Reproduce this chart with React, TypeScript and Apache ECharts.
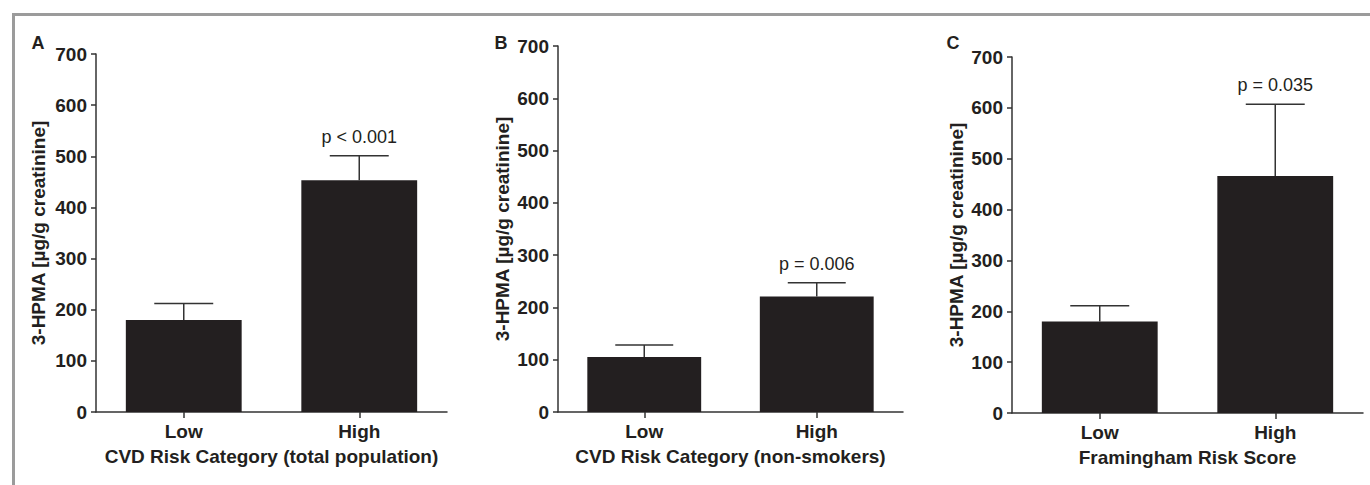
import React, { useEffect, useRef } from "react";
import * as echarts from "echarts";

const categories = ["Low", "High"];
const panelLetters = ["A", "B", "C"];
const xTitles = [
  "CVD Risk Category (total population)",
  "CVD Risk Category (non-smokers)",
  "Framingham Risk Score",
];
const yTitle = "3-HPMA [\u00b5g/g creatinine]";
const meansA = [180, 453];
const upperA = [212, 501];
const meansB = [105, 221];
const upperB = [128, 247];
const meansC = [180, 466];
const upperC = [211, 607];
const pLabels = ["p < 0.001", "p = 0.006", "p = 0.035"];
const yMin = 0;
const yMax = 700;
const yStep = 100;

const FONT = "'Liberation Sans', Arial, Helvetica, sans-serif";
const INK = "#231f20";
const AXIS = "#333333";

const grids = [
  { left: 96, top: 54, width: 351, height: 358 },
  { left: 558, top: 46, width: 345, height: 366 },
  { left: 1012, top: 57, width: 351, height: 356 },
];
const letterPos = [
  [38, 43],
  [501, 43],
  [953, 43],
];
const yNameGaps = [48, 46, 46];

export default function App() {
  const ref = useRef<HTMLDivElement>(null);
  useEffect(() => {
    if (!ref.current) return;
    const chart = echarts.init(ref.current, null, { renderer: "svg" });
    const means = [meansA, meansB, meansC];
    const uppers = [upperA, upperB, upperC];

    const xAxis = grids.map((_, i) => ({
      type: "category",
      gridIndex: i,
      data: categories,
      boundaryGap: true,
      axisLine: { show: true, lineStyle: { color: AXIS, width: 1.5 } },
      axisTick: { show: true, alignWithLabel: true, length: 6, lineStyle: { color: AXIS, width: 1.5 } },
      axisLabel: { color: INK, fontFamily: FONT, fontWeight: "bold", fontSize: 19, margin: 10 },
      name: xTitles[i],
      nameLocation: "middle",
      nameGap: 35,
      nameTextStyle: { color: INK, fontFamily: FONT, fontWeight: "bold", fontSize: 19 },
      splitLine: { show: false },
    }));
    const yAxis = grids.map((_, i) => ({
      type: "value",
      gridIndex: i,
      min: yMin,
      max: yMax,
      interval: yStep,
      axisLine: { show: true, lineStyle: { color: AXIS, width: 1.5 } },
      axisTick: { show: true, length: 5, lineStyle: { color: AXIS, width: 1.5 } },
      axisLabel: { color: INK, fontFamily: FONT, fontWeight: "bold", fontSize: 19, margin: 9 },
      splitLine: { show: false },
      name: yTitle,
      nameLocation: "middle",
      nameGap: yNameGaps[i],
      nameRotate: 90,
      nameTextStyle: { color: INK, fontFamily: FONT, fontWeight: "bold", fontSize: 19 },
    }));

    const series: any[] = [];
    grids.forEach((_, i) => {
      series.push({
        type: "bar",
        xAxisIndex: i,
        yAxisIndex: i,
        data: means[i],
        barWidth: "66%",
        itemStyle: { color: INK },
        z: 2,
      });
      series.push({
        type: "custom",
        xAxisIndex: i,
        yAxisIndex: i,
        z: 3,
        data: means[i].map((m, k) => [k, m, uppers[i][k]]),
        encode: { x: 0, y: [1, 2] },
        renderItem: (params: any, api: any) => {
          const x = api.value(0);
          const m = api.value(1);
          const u = api.value(2);
          const base = api.coord([x, m]);
          const top = api.coord([x, u]);
          const band = api.size([1, 0])[0];
          const half = band * 0.168;
          const children: any[] = [
            {
              type: "line",
              shape: { x1: base[0], y1: base[1], x2: top[0], y2: top[1] },
              style: { stroke: AXIS, lineWidth: 1.5 },
            },
            {
              type: "line",
              shape: { x1: top[0] - half, y1: top[1], x2: top[0] + half, y2: top[1] },
              style: { stroke: AXIS, lineWidth: 1.5 },
            },
          ];
          if (x === 1) {
            children.push({
              type: "text",
              style: {
                text: pLabels[i],
                x: top[0],
                y: top[1] - 19,
                align: "center",
                verticalAlign: "middle",
                fontSize: 18,
                fontFamily: FONT,
                fill: INK,
              },
            });
          }
          return { type: "group", children };
        },
      });
    });

    const graphic: any[] = [
      { type: "rect", shape: { x: 12, y: 13, width: 1358, height: 3 }, style: { fill: "#9b9b9b" }, silent: true },
      { type: "rect", shape: { x: 12, y: 13, width: 3, height: 472 }, style: { fill: "#9b9b9b" }, silent: true },
      ...panelLetters.map((t, i) => ({
        type: "text",
        x: letterPos[i][0],
        y: letterPos[i][1],
        style: {
          text: t,
          align: "center",
          verticalAlign: "middle",
          fontSize: 18,
          fontWeight: "bold",
          fontFamily: FONT,
          fill: INK,
        },
      })),
    ];

    chart.setOption({
      animation: false,
      backgroundColor: "#ffffff",
      grid: grids.map((g) => ({ ...g, containLabel: false })),
      xAxis,
      yAxis,
      series,
      graphic,
    });
    return () => chart.dispose();
  }, []);
  return (
    <div
      ref={ref}
      style={{ position: "fixed", left: 0, top: 0, width: 1370, height: 485, background: "#fff" }}
    />
  );
}
